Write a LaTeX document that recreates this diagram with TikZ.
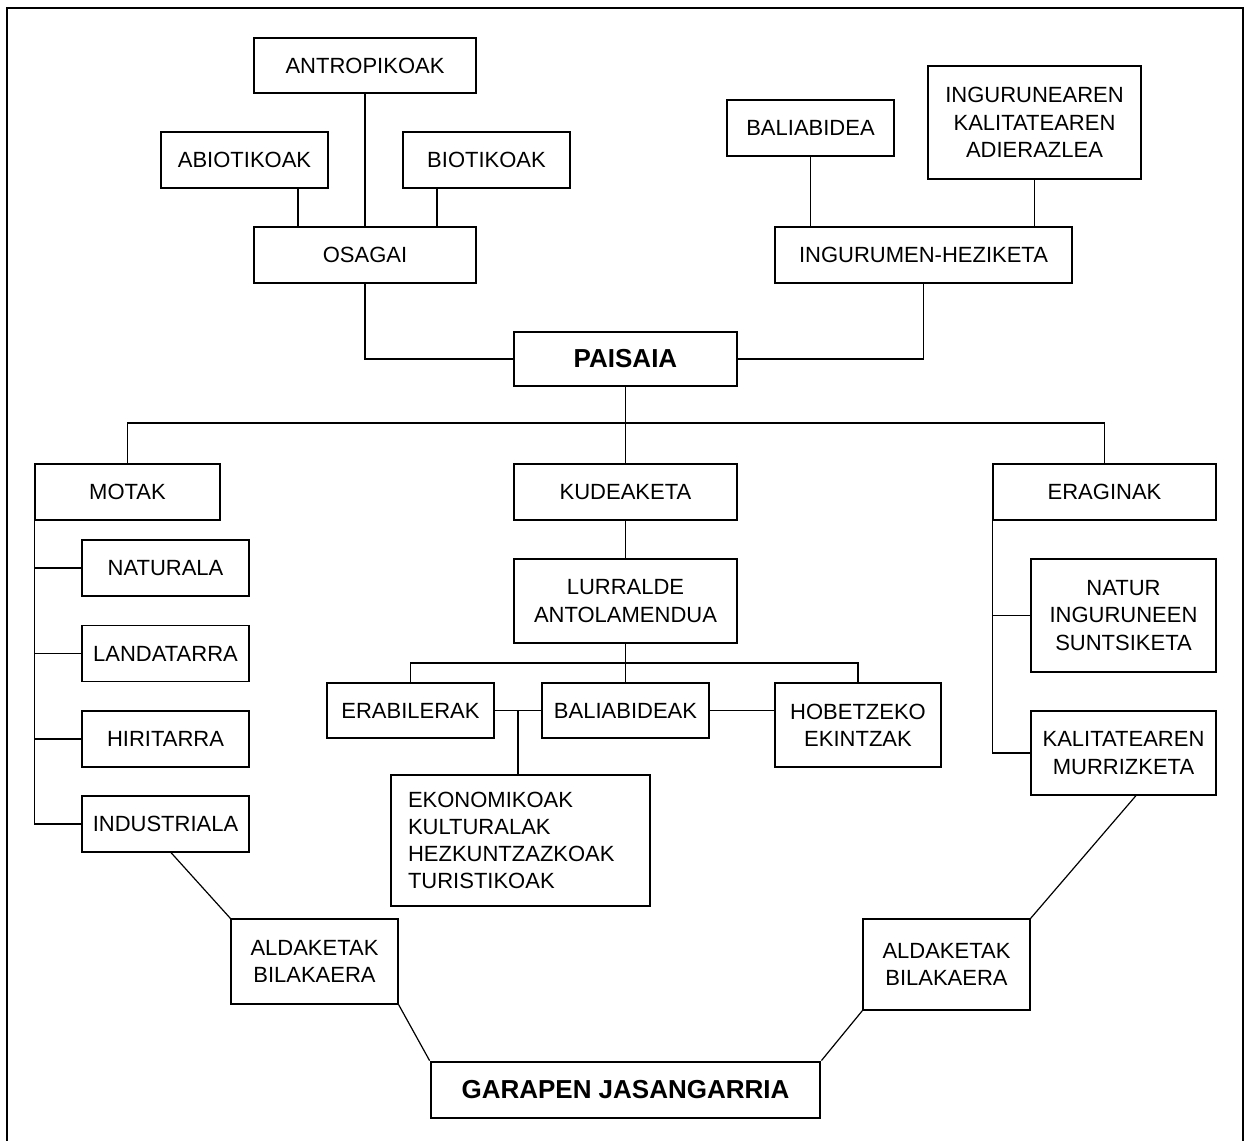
\documentclass[tikz,border=0pt]{standalone}
\usepackage{fontspec}
\setmainfont{Liberation Sans}
\usetikzlibrary{positioning,calc}

\begin{document}
\begin{tikzpicture}[
  x=0.5pt, y=-0.5pt,
  box/.style={draw, line width=0.6pt, inner sep=0pt, align=center, font=\fontsize{11}{13.6}\selectfont},
  mainbox/.style={box, line width=1.4pt, font=\bfseries\fontsize{13}{15.6}\selectfont},
  link/.style={line width=0.6pt}
]
\useasboundingbox (0,0) rectangle (1244,1141);
% page frame (open at the bottom)
\draw[line width=0.7pt] (7,1141) -- (7,8) -- (1243,8) -- (1243,1141);

% central node
\node[mainbox, minimum width=111.5pt, minimum height=27pt] (paisaia) at (625.5,359) {PAISAIA};

% components (top left)
\node[box, minimum width=111pt, minimum height=27.5pt] (antro) at (365,65.5) {ANTROPIKOAK};
\node[box, minimum width=83.5pt, minimum height=28pt] (abio) at (244.5,160) {ABIOTIKOAK};
\node[box, minimum width=83.5pt, minimum height=28pt] (bio) at (486.5,160) {BIOTIKOAK};
\node[box, minimum width=111pt, minimum height=28pt] (osagai) at (365,255) {OSAGAI};
\draw[link] (antro.south) -- (osagai.north);
\draw[link] (298,0|-abio.south) -- (298,0|-osagai.north);
\draw[link] (437,0|-bio.south) -- (437,0|-osagai.north);
\draw[link] (osagai.south) |- (paisaia.west);

% environmental education (top right)
\node[box, minimum width=83.5pt, minimum height=28pt] (balia) at (810.5,128) {BALIABIDEA};
\node[box, minimum width=106.5pt, minimum height=56.5pt] (ingurunea) at (1034.5,122.5) {INGURUNEAREN\\ KALITATEAREN\\ ADIERAZLEA};
\node[box, minimum width=148.5pt, minimum height=28pt] (heziketa) at (923.5,255) {INGURUMEN-HEZIKETA};
\draw[link] (balia.south) -- (balia.south|-heziketa.north);
\draw[link] (ingurunea.south) -- (ingurunea.south|-heziketa.north);
\draw[link] (heziketa.south) |- (paisaia.east);

% three main branches
\node[box, minimum width=92.5pt, minimum height=28pt] (motak) at (127.5,492) {MOTAK};
\node[box, minimum width=111.5pt, minimum height=28pt] (kudeaketa) at (625.5,492) {KUDEAKETA};
\node[box, minimum width=111.5pt, minimum height=28pt] (eraginak) at (1104.5,492) {ERAGINAK};
\coordinate (bus) at (625.5,423);
\draw[link] (motak.north) |- (bus) -| (eraginak.north);
\draw[link] (paisaia.south) -- (kudeaketa.north);

% landscape types
\foreach \n/\y/\t in {naturala/568/NATURALA, landatarra/653.5/LANDATARRA,
                      hiritarra/739/HIRITARRA, industriala/824/INDUSTRIALA} {
  \node[box, minimum width=83.5pt, minimum height=28pt] (\n) at (165.5,\y) {\t};
  \draw[link] (motak.south west|-\n.west) -- (\n.west);
}
\draw[link] (motak.south west) -- (motak.south west|-industriala.west);

% management
\node[box, minimum width=111.5pt, minimum height=42pt] (lurralde) at (625.5,601) {LURRALDE\\ ANTOLAMENDUA};
\node[box, minimum width=83.5pt, minimum height=27.5pt] (erabilerak) at (410.5,710.5) {ERABILERAK};
\node[box, minimum width=83.5pt, minimum height=27.5pt] (baliabideak) at (625.5,710.5) {BALIABIDEAK};
\node[box, minimum width=83pt, minimum height=42pt] (hobetzeko) at (858,725) {HOBETZEKO\\ EKINTZAK};
\node[box, align=left, text width=112.5pt, inner xsep=8.5pt, minimum height=65.5pt] (ekonomia) at (520.5,840.5)
     {EKONOMIKOAK\\ KULTURALAK\\ HEZKUNTZAZKOAK\\ TURISTIKOAK};
\coordinate (sub) at (625.5,663);
\draw[link] (kudeaketa.south) -- (lurralde.north);
\draw[link] (lurralde.south) -- (baliabideak.north);
\draw[link] (erabilerak.north) |- (sub) -| (hobetzeko.north);
\draw[link] (erabilerak.east) -- (baliabideak.west);
\draw[link] (baliabideak.east) -- (baliabideak.east-|hobetzeko.west);
\draw[link] (518,0|-erabilerak.east) -- (518,0|-ekonomia.north);

% impacts
\node[box, minimum width=92.5pt, minimum height=56.5pt] (natur) at (1123.5,615.5) {NATUR\\ INGURUNEEN\\ SUNTSIKETA};
\node[box, minimum width=92.5pt, minimum height=42pt] (kalitate) at (1123.5,753) {KALITATEAREN\\ MURRIZKETA};
\draw[link] (eraginak.south west) |- (kalitate.west);
\draw[link] (eraginak.south west|-natur.west) -- (natur.west);

% changes towards sustainable development (bottom)
\node[box, minimum width=83.5pt, minimum height=42.5pt] (aldaL) at (314.5,961.5) {ALDAKETAK\\ BILAKAERA};
\node[box, minimum width=83.5pt, minimum height=45.5pt] (aldaR) at (946.5,964.5) {ALDAKETAK\\ BILAKAERA};
\node[mainbox, minimum width=194.5pt, minimum height=28pt] (garapen) at (625.5,1090) {GARAPEN JASANGARRIA};
\draw[link] (171,0|-industriala.south) -- (aldaL.north west);
\draw[link] (aldaL.south east) -- (garapen.north west);
\draw[link] (1136,0|-kalitate.south) -- (aldaR.north east);
\draw[link] (aldaR.south west) -- (garapen.north east);
\end{tikzpicture}
\end{document}
